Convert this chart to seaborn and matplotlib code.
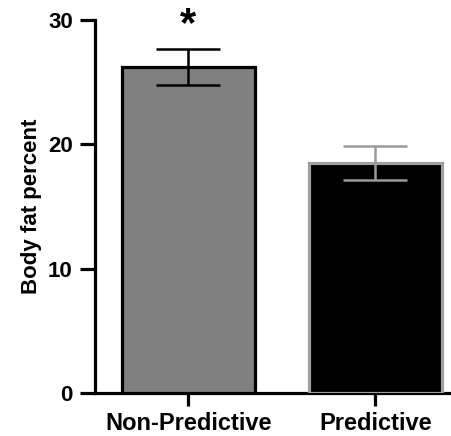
import matplotlib
matplotlib.use("Agg")
import matplotlib.pyplot as plt
import seaborn as sns
import pandas as pd

# values
groups = ["Non-Predictive", "Predictive"]
body_fat = [26.2, 18.5]
sem = [1.45, 1.4]
fills = ["#808080", "#000000"]
edges = ["#000000", "#a0a0a0"]
err_colors = ["#000000", "#9a9a9a"]

sns.set_style("ticks")
plt.rcParams["font.family"] = ["Liberation Sans", "DejaVu Sans"]
plt.rcParams["font.weight"] = "bold"

df = pd.DataFrame({"group": groups, "fat": body_fat})

fig = plt.figure(figsize=(4.52, 4.36), dpi=100)
ax = fig.add_axes([0.21, 0.099, 0.79, 0.855])

sns.barplot(data=df, x="group", y="fat", hue="group", palette=fills,
            width=0.715, legend=False, ax=ax, linewidth=2.3, zorder=2)
for patch, ec in zip(ax.patches, edges):
    patch.set_edgecolor(ec)

for i in range(len(groups)):
    ax.errorbar(i, body_fat[i], yerr=sem[i], color=err_colors[i], capsize=23,
                elinewidth=1.8, capthick=1.8, fmt="none", zorder=3)

# significance marker
ax.text(0, 29.6, "*", ha="center", va="center", fontsize=30,
        fontweight="bold", color="black", clip_on=False)

ax.set_xlim(-0.5, 1.41)
ax.set_ylim(0, 30)
ax.set_yticks([0, 10, 20, 30])
ax.set_xlabel("")
ax.set_ylabel("Body fat percent", fontsize=16, fontweight="bold",
              color="black", labelpad=4)

sns.despine(ax=ax, right=True, top=True)
for s in ["left", "bottom"]:
    ax.spines[s].set_linewidth(2.3)
    ax.spines[s].set_color("black")
ax.spines["bottom"].set_zorder(1)
ax.tick_params(axis="y", direction="out", length=11, width=2.3, labelsize=16,
               pad=5, color="black", labelcolor="black")
ax.tick_params(axis="x", direction="inout", length=19, width=2.3, labelsize=17,
               pad=4, color="black", labelcolor="black")
for lab in ax.get_xticklabels() + ax.get_yticklabels():
    lab.set_fontweight("bold")

fig.savefig("out.png", dpi=100)
